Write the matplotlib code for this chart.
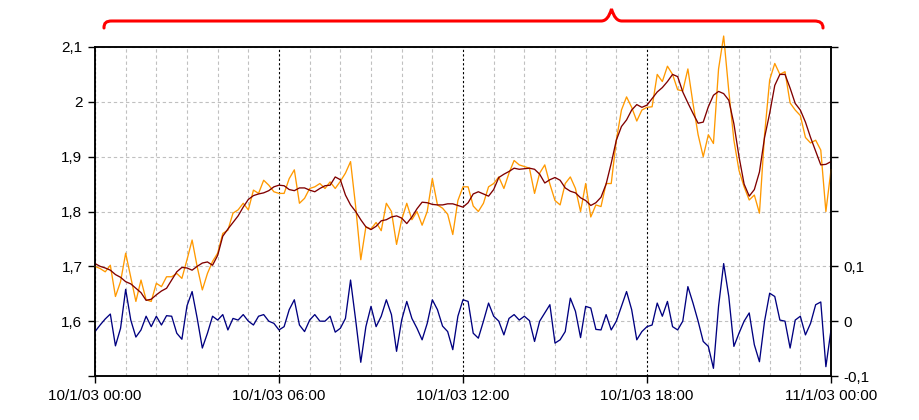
import numpy as np
import pandas as pd
import matplotlib
matplotlib.use('Agg')
from matplotlib import pyplot as plt
import matplotlib.dates as mdates
from matplotlib.path import Path
from matplotlib.patches import PathPatch

plt.rcParams['font.family'] = ['Liberation Sans', 'DejaVu Sans']
plt.rcParams['font.size'] = 11

# 10-minute samples, 10/1/03 00:00 .. 11/1/03 00:00
start = '2003-01-10 00:00'
n_points = 145

raw = [1.700, 1.696, 1.690, 1.702, 1.645, 1.672, 1.724, 1.680, 1.636, 1.675,
       1.639, 1.636, 1.669, 1.663, 1.681, 1.681, 1.687, 1.678, 1.712, 1.748,
       1.699, 1.657, 1.687, 1.709, 1.724, 1.760, 1.766, 1.797, 1.803, 1.815,
       1.803, 1.839, 1.833, 1.857, 1.848, 1.836, 1.833, 1.833, 1.860, 1.876,
       1.815, 1.824, 1.842, 1.845, 1.851, 1.842, 1.854, 1.842, 1.855, 1.870,
       1.891, 1.809, 1.712, 1.772, 1.768, 1.780, 1.765, 1.815, 1.800, 1.740,
       1.785, 1.815, 1.785, 1.800, 1.775, 1.800, 1.860, 1.812, 1.806, 1.795,
       1.758, 1.820, 1.845, 1.845, 1.810, 1.800, 1.815, 1.845, 1.851, 1.863,
       1.842, 1.870, 1.893, 1.885, 1.882, 1.879, 1.833, 1.870, 1.885, 1.850,
       1.820, 1.812, 1.851, 1.863, 1.842, 1.800, 1.851, 1.790, 1.812, 1.809,
       1.851, 1.851, 1.930, 1.985, 2.009, 1.990, 1.965, 1.985, 1.990, 1.991,
       2.050, 2.037, 2.065, 2.050, 2.022, 2.020, 2.060, 1.997, 1.940, 1.900,
       1.940, 1.924, 2.060, 2.120, 2.020, 1.930, 1.875, 1.845, 1.821, 1.830,
       1.797, 1.940, 2.040, 2.070, 2.050, 2.055, 1.998, 1.985, 1.975, 1.935,
       1.925, 1.930, 1.912, 1.800, 1.876]

smooth = [1.705, 1.700, 1.697, 1.693, 1.685, 1.680, 1.672, 1.668, 1.660, 1.652,
          1.638, 1.640, 1.648, 1.655, 1.660, 1.675, 1.690, 1.698, 1.697, 1.693,
          1.700, 1.706, 1.708, 1.702, 1.720, 1.755, 1.768, 1.780, 1.792, 1.808,
          1.822, 1.829, 1.832, 1.834, 1.838, 1.845, 1.848, 1.847, 1.840, 1.838,
          1.843, 1.843, 1.839, 1.836, 1.842, 1.847, 1.848, 1.863, 1.858, 1.830,
          1.812, 1.800, 1.785, 1.772, 1.767, 1.773, 1.783, 1.785, 1.790, 1.792,
          1.788, 1.778, 1.790, 1.805, 1.817, 1.816, 1.813, 1.812, 1.812, 1.814,
          1.814, 1.811, 1.808, 1.816, 1.832, 1.836, 1.832, 1.828, 1.840, 1.862,
          1.868, 1.873, 1.879, 1.877, 1.878, 1.879, 1.877, 1.868, 1.852, 1.858,
          1.862, 1.857, 1.843, 1.837, 1.834, 1.825, 1.820, 1.811, 1.816, 1.826,
          1.850, 1.888, 1.930, 1.955, 1.967, 1.985, 1.995, 1.990, 1.994, 2.006,
          2.018, 2.026, 2.037, 2.050, 2.046, 2.018, 1.998, 1.979, 1.961, 1.963,
          1.991, 2.012, 2.019, 2.015, 2.003, 1.960, 1.900, 1.850, 1.828, 1.840,
          1.872, 1.935, 1.979, 2.030, 2.050, 2.050, 2.025, 1.997, 1.985, 1.963,
          1.935, 1.910, 1.885, 1.886, 1.891]

resid = [-0.019, -0.007, 0.004, 0.013, -0.045, -0.013, 0.058, 0.002, -0.029, -0.016,
         0.009, -0.010, 0.009, -0.007, 0.010, 0.009, -0.022, -0.033, 0.028, 0.054,
         0.005, -0.049, -0.022, 0.009, 0.002, 0.012, -0.016, 0.005, 0.002, 0.012,
         0.000, -0.007, 0.009, 0.012, 0.000, -0.004, -0.016, -0.010, 0.021, 0.039,
         -0.007, -0.019, 0.002, 0.012, 0.000, 0.000, 0.009, -0.020, -0.013, 0.005,
         0.075, 0.002, -0.075, -0.010, 0.027, -0.010, 0.009, 0.039, 0.012, -0.055,
         0.002, 0.036, 0.005, -0.013, -0.034, -0.004, 0.039, 0.021, -0.009, -0.019,
         -0.052, 0.009, 0.039, 0.036, -0.022, -0.031, 0.000, 0.033, 0.009, 0.000,
         -0.025, 0.005, 0.012, 0.002, 0.009, 0.001, -0.037, 0.000, 0.015, 0.030,
         -0.040, -0.034, -0.019, 0.042, 0.018, -0.030, 0.027, 0.024, -0.015, -0.016,
         0.012, -0.016, 0.000, 0.027, 0.054, 0.021, -0.034, -0.019, -0.010, -0.007,
         0.033, 0.009, 0.036, -0.010, -0.016, 0.000, 0.063, 0.033, 0.000, -0.037,
         -0.046, -0.086, 0.027, 0.105, 0.045, -0.046, -0.022, 0.000, 0.015, -0.043,
         -0.074, 0.000, 0.051, 0.045, 0.002, 0.000, -0.049, 0.002, 0.009, -0.025,
         -0.004, 0.030, 0.035, -0.083, -0.016]

xtick_labels = ['10/1/03 00:00', '10/1/03 06:00', '10/1/03 12:00',
                '10/1/03 18:00', '11/1/03 00:00']
left_ticks = [1.5, 1.6, 1.7, 1.8, 1.9, 2.0, 2.1]
left_labels = ['', '1,6', '1,7', '1,8', '1,9', '2', '2,1']
right_ticks = [-0.1, 0.0, 0.1, 0.2, 0.3, 0.4, 0.5]
right_labels = ['-0,1', '0', '0,1', '', '', '', '']

times = pd.date_range(start, periods=n_points, freq='10min')
major = mdates.date2num(pd.date_range(start, periods=5, freq='6h').to_pydatetime())
minor = mdates.date2num(pd.date_range(start, periods=25, freq='h').to_pydatetime())
x = mdates.date2num(times.to_pydatetime())

fig = plt.figure(figsize=(9.2, 4.2), dpi=100)
ax = fig.add_axes([95/920, 44/420, 736/920, 329/420])
ax2 = ax.twinx()

ax.plot(x, raw, color='#ff9900', lw=0.95, zorder=3, clip_on=False)
ax.plot(x, smooth, color='#800000', lw=0.95, zorder=4)
ax2.plot(x, resid, color='#000080', lw=0.95)

ax.set_xlim(x[0], x[-1])
ax.set_ylim(1.5, 2.1)
ax2.set_ylim(-0.1, 0.5)

ax.set_xticks(major, xtick_labels)
ax.set_xticks(minor, minor=True)
ax.set_yticks(left_ticks, left_labels)
ax2.set_yticks(right_ticks, right_labels)

ax.grid(axis='x', which='minor', color='#c0c0c0', linestyle=(0, (3, 2.5)), lw=0.8)
ax.grid(axis='x', which='major', color='black', linestyle=(0, (2, 2)), lw=0.8)
ax.grid(axis='y', which='major', color='#c0c0c0', linestyle=(0, (3, 2.5)), lw=0.8)
ax.set_axisbelow(True)

ax.tick_params(which='major', direction='out', length=5, width=1, pad=4, labelsize=11)
ax.tick_params(which='minor', length=0)
ax2.tick_params(direction='out', length=5, width=1, pad=4, labelsize=11)

for a in (ax, ax2):
    for s in a.spines.values():
        s.set_linewidth(1.1)
        s.set_color('black')

# red brace above the plot (pixel positions -> figure fraction)
def fxy(px, py):
    return (px / 920, 1 - py / 420)

verts = [fxy(104, 28),
         fxy(104, 23), fxy(106, 21), fxy(112, 21),
         fxy(601, 21),
         fxy(606, 21), fxy(609, 17), fxy(611.5, 9),
         fxy(614, 17), fxy(617, 21), fxy(622, 21),
         fxy(814, 21),
         fxy(820, 21), fxy(823, 23), fxy(823, 28)]
codes = [Path.MOVETO,
         Path.CURVE4, Path.CURVE4, Path.CURVE4,
         Path.LINETO,
         Path.CURVE4, Path.CURVE4, Path.CURVE4,
         Path.CURVE4, Path.CURVE4, Path.CURVE4,
         Path.LINETO,
         Path.CURVE4, Path.CURVE4, Path.CURVE4]
brace = PathPatch(Path(verts, codes), transform=fig.transFigure,
                  fill=False, edgecolor='red', lw=2.2, capstyle='round')
fig.add_artist(brace)

fig.savefig('out.png', dpi=100)
